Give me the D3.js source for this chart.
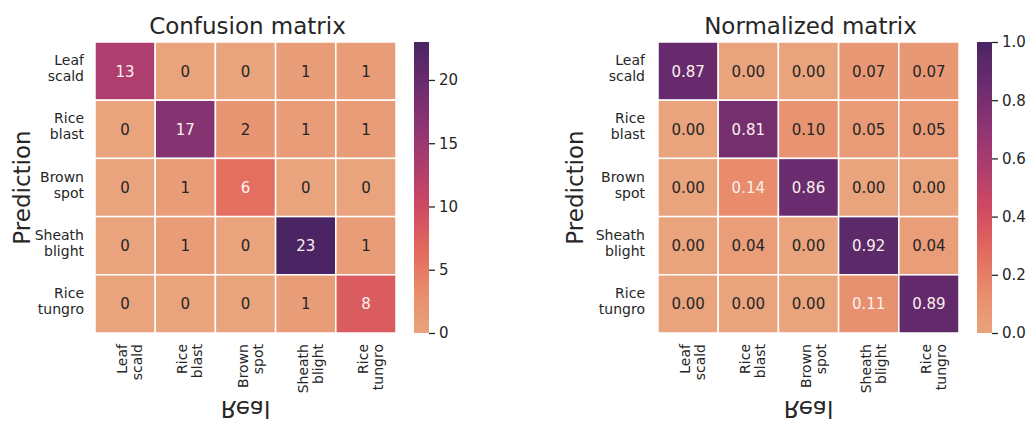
<!DOCTYPE html>
<html>
<head>
<meta charset="utf-8">
<script src="https://cdn.jsdelivr.net/npm/d3@7"></script>
<style>
  body { margin: 0; background: #fff; }
  svg { display: block; font-family: "DejaVu Sans", sans-serif; }
</style>
</head>
<body>
<script>
// categories (two-line labels)
const categories = ["Leaf\nscald", "Rice\nblast", "Brown\nspot", "Sheath\nblight", "Rice\ntungro"];

// counts, rows = prediction, cols = real
const counts = [
  [13, 0, 0, 1, 1],
  [0, 17, 2, 1, 1],
  [0, 1, 6, 0, 0],
  [0, 1, 0, 23, 1],
  [0, 0, 0, 1, 8]
];

// normalized values as printed
const normalized = [
  [0.87, 0.00, 0.00, 0.07, 0.07],
  [0.00, 0.81, 0.10, 0.05, 0.05],
  [0.00, 0.14, 0.86, 0.00, 0.00],
  [0.00, 0.04, 0.00, 0.92, 0.04],
  [0.00, 0.00, 0.00, 0.11, 0.89]
];

const countTicks = [0, 5, 10, 15, 20];
const normTicks = [0, 0.2, 0.4, 0.6, 0.8, 1.0];

// seaborn "flare" (used to pick annotation colour)
const flareStops = ["#edb081", "#e98d6b", "#e3685c", "#d14a61", "#b13c6c", "#8f3371", "#6c2b6d", "#4b2362"];
// the same ramp as it looks in the screenshot (a bit more salmon at the low end)
const shownStops = ["#e9a37d", "#e88c6c", "#e2695d", "#cf4a62", "#ad3d6e", "#8c3472", "#6a2c6e", "#4b2563"];

const W = 1033, H = 422;
const plotTop = 42, plotBottom = 333;

const svg = d3.select("body").append("svg")
  .attr("width", W).attr("height", H);
svg.append("rect").attr("width", W).attr("height", H).attr("fill", "#fff");

const defs = svg.append("defs");
const ink = "#262626";

const ramp = stops => d3.scaleLinear()
  .domain(stops.map((d, i) => i / (stops.length - 1)))
  .range(stops)
  .interpolate(d3.interpolateRgb)
  .clamp(true);
const flare = ramp(flareStops);
const shown = ramp(shownStops);

// relative luminance like seaborn's annotation colour choice
const relLum = c => {
  const r = d3.rgb(c);
  const f = v => { v /= 255; return v <= 0.03928 ? v / 12.92 : Math.pow((v + 0.055) / 1.055, 2.4); };
  return 0.2126 * f(r.r) + 0.7152 * f(r.g) + 0.0722 * f(r.b);
};

function panel(opts) {
  const { left, right, title, values, vmax, ticks, fmt, cbX, id, predX } = opts;
  const g = svg.append("g");

  const x = d3.scaleBand().domain(categories).range([left, right]);
  const y = d3.scaleBand().domain(categories).range([plotTop, plotBottom]);

  const cells = [];
  values.forEach((row, i) => row.forEach((v, j) => cells.push({ r: categories[i], c: categories[j], v })));

  g.selectAll("rect.cell").data(cells).join("rect")
    .attr("class", "cell")
    .attr("x", d => x(d.c)).attr("y", d => y(d.r))
    .attr("width", x.bandwidth()).attr("height", y.bandwidth())
    .attr("fill", d => shown(d.v / vmax))
    .attr("stroke", "#fff").attr("stroke-width", 1.5);

  g.selectAll("text.val").data(cells).join("text")
    .attr("class", "val")
    .attr("x", d => x(d.c) + x.bandwidth() / 2)
    .attr("y", d => y(d.r) + y.bandwidth() / 2)
    .attr("dy", "0.36em")
    .attr("text-anchor", "middle")
    .attr("font-size", 15)
    .attr("fill", d => relLum(flare(d.v / vmax)) < 0.408 ? "#fbefef" : ink)
    .text(d => fmt(d.v));

  // y tick labels
  const yl = g.selectAll("text.ylab").data(categories).join("text")
    .attr("class", "ylab")
    .attr("text-anchor", "end")
    .attr("font-size", 14)
    .attr("fill", ink)
    .attr("transform", d => `translate(${left - opts.ylPad},${y(d) + y.bandwidth() / 2})`);
  yl.selectAll("tspan").data(d => d.split("\n")).join("tspan")
    .attr("x", 0)
    .attr("y", (d, i) => i === 0 ? -6 : 10)
    .text(d => d);

  // x tick labels, rotated
  const xl = g.selectAll("text.xlab").data(categories).join("text")
    .attr("class", "xlab")
    .attr("text-anchor", "end")
    .attr("font-size", 14)
    .attr("fill", ink)
    .attr("transform", d => `translate(${x(d) + x.bandwidth() / 2},${plotBottom + 11}) rotate(-90)`);
  xl.selectAll("tspan").data(d => d.split("\n")).join("tspan")
    .attr("x", 0)
    .attr("y", (d, i) => i === 0 ? 2 : 17)
    .text(d => d);

  // title
  g.append("text")
    .attr("x", (left + right) / 2 + 2).attr("y", 34)
    .attr("text-anchor", "middle")
    .attr("font-size", 23)
    .attr("fill", ink)
    .text(title);

  // axis labels
  g.append("text")
    .attr("transform", `translate(${predX},${(plotTop + plotBottom) / 2}) rotate(-90)`)
    .attr("text-anchor", "middle")
    .attr("font-size", 23)
    .attr("fill", ink)
    .text("Prediction");

  g.append("text")
    .attr("transform", `translate(${(left + right) / 2},401) scale(1,-1)`)
    .attr("text-anchor", "middle")
    .attr("font-size", 23)
    .attr("fill", ink)
    .text("Real");

  // colorbar
  const cb = d3.scaleLinear().domain([0, vmax]).range([plotBottom, plotTop]);
  const grad = defs.append("linearGradient")
    .attr("id", id).attr("x1", 0).attr("x2", 0).attr("y1", 1).attr("y2", 0);
  grad.selectAll("stop").data(d3.range(0, 1.0001, 0.02)).join("stop")
    .attr("offset", d => d)
    .attr("stop-color", d => shown(d));
  g.append("rect")
    .attr("x", cbX).attr("y", plotTop)
    .attr("width", 15).attr("height", plotBottom - plotTop)
    .attr("fill", `url(#${id})`);

  const ax = g.append("g")
    .attr("transform", `translate(${cbX + 15},0)`)
    .call(d3.axisRight(cb).tickValues(ticks).tickSize(6).tickPadding(4).tickFormat(opts.tickFmt));
  ax.select(".domain").remove();
  ax.selectAll("line").attr("stroke", ink).attr("stroke-width", 1.3);
  ax.selectAll("text").attr("font-size", 15).attr("fill", ink).attr("font-family", "DejaVu Sans");
}

panel({
  left: 95, right: 396, title: "Confusion matrix",
  values: counts, vmax: 23, ticks: countTicks,
  fmt: d3.format("d"), tickFmt: d3.format("d"),
  cbX: 414, id: "g1", predX: 30, ylPad: 11
});

panel({
  left: 658, right: 959, title: "Normalized matrix",
  values: normalized, vmax: 1, ticks: normTicks,
  fmt: d3.format(".2f"), tickFmt: d3.format(".1f"),
  cbX: 977, id: "g2", predX: 583, ylPad: 13
});
</script>
</body>
</html>
